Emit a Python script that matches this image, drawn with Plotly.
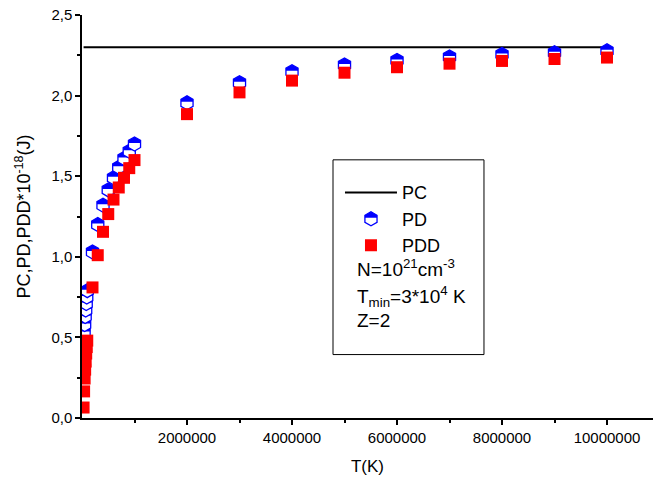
import plotly.graph_objects as go

# Temperature grid (K)
T = [3e4, 4e4, 5e4, 6e4, 7e4, 8e4, 9e4, 1e5,
     2e5, 3e5, 4e5, 5e5, 6e5, 7e5, 8e5, 9e5, 1e6,
     2e6, 3e6, 4e6, 5e6, 6e6, 7e6, 8e6, 9e6, 1e7]

# Energies in units of 1e-18 J
PC = [2.3, 2.3, 2.3, 2.3, 2.3, 2.3, 2.3, 2.3,
      2.3, 2.3, 2.3, 2.3, 2.3, 2.3, 2.3, 2.3, 2.3,
      2.3, 2.3, 2.3, 2.3, 2.3, 2.3, 2.3, 2.3, 2.3]
PD = [0.47, 0.53, 0.58, 0.63, 0.67, 0.71, 0.75, 0.79,
      1.03, 1.20, 1.32, 1.415, 1.49, 1.555, 1.61, 1.655, 1.70,
      1.955, 2.08, 2.148, 2.19, 2.218, 2.24, 2.255, 2.266, 2.278]
PDD = [0.065, 0.165, 0.245, 0.30, 0.35, 0.40, 0.44, 0.48,
       0.81, 1.01, 1.155, 1.265, 1.355, 1.43, 1.49, 1.55, 1.60,
       1.885, 2.02, 2.093, 2.142, 2.176, 2.198, 2.215, 2.227, 2.236]

X_MAJOR = [2e6, 4e6, 6e6, 8e6, 1e7]
X_MINOR = [1e6, 3e6, 5e6, 7e6, 9e6]

FONT = "Liberation Sans, Arial, sans-serif"
BLUE = "#0000ff"
RED = "#ff0000"

fig = go.Figure()
fig.add_trace(go.Scatter(x=T, y=PC, name="PC", mode="lines",
                         line=dict(color="black", width=2)))
fig.add_trace(go.Scatter(x=T, y=PD, name="PD", mode="markers",
                         marker=dict(symbol="hexagon", size=14, color="white",
                                     line=dict(color=BLUE, width=1.3))))
fig.add_trace(go.Scatter(x=T, y=PDD, name="PDD", mode="markers",
                         marker=dict(symbol="square", size=12, color=RED,
                                     line=dict(width=0))))

# legend frame and the parameter notes inside it
bx0, bx1, by0, by1 = 0.4396, 0.704, 0.1574, 0.6406
shapes = [dict(type="rect", xref="paper", yref="paper", x0=bx0, x1=bx1, y0=by0, y1=by1,
               line=dict(color="black", width=1), fillcolor="rgba(0,0,0,0)")]
notes = [
    ("N=10<sup>21</sup>cm<sup>-3</sup>", 0.372),
    ("T<sub>min</sub>=3*10<sup>4</sup> K", 0.302),
    ("Z=2", 0.242),
]
annotations = [dict(text=t, xref="paper", yref="paper", x=0.478, y=y,
                    xanchor="left", yanchor="middle", showarrow=False,
                    font=dict(family=FONT, size=19, color="black"))
               for t, y in notes]

fig.update_layout(
    width=653, height=482,
    margin=dict(l=82, r=0, t=15, b=63.5),
    paper_bgcolor="white", plot_bgcolor="white",
    separators=",.",
    font=dict(family=FONT, size=15, color="black"),
    showlegend=True,
    legend=dict(x=0.4518, y=0.605, xanchor="left", yanchor="top",
                bgcolor="rgba(0,0,0,0)", borderwidth=0,
                font=dict(family=FONT, size=18), itemwidth=52,
                tracegroupgap=0),
    shapes=shapes,
    annotations=annotations,
    xaxis=dict(range=[0, 1.0876e7], showline=True, linecolor="black", linewidth=1.5,
               ticks="outside", ticklen=5, tickwidth=1.5, tickcolor="black",
               tickvals=X_MAJOR, tickformat="d", showgrid=False, zeroline=False,
               minor=dict(tickvals=X_MINOR, ticks="outside", ticklen=3,
                          tickwidth=1.5, tickcolor="black"),
               title=dict(text="T(K)", font=dict(family=FONT, size=17), standoff=15)),
    yaxis=dict(range=[0, 2.5], showline=True, linecolor="black", linewidth=1.5,
               ticks="outside", ticklen=5, tickwidth=1.5, tickcolor="black",
               dtick=0.5, tick0=0, tickformat=".1f", showgrid=False, zeroline=False,
               minor=dict(dtick=0.25, ticks="outside", ticklen=3,
                          tickwidth=1.5, tickcolor="black"),
               title=dict(text="PC,PD,PDD*10<sup>-18</sup>(J)",
                          font=dict(family=FONT, size=18), standoff=16)),
)

# PD markers: blue outline with the upper half filled in (plot and legend)
half_fill_js = """
var gd = document.getElementById('{plot_id}');
function topHalf(r) {
  var w = r * Math.sqrt(3) / 2, h = r / 2;
  return 'M' + (-w) + ',' + (-h) + 'L0,' + (-r) + 'L' + w + ',' + (-h) +
         'V-1H' + (-w) + 'Z';
}
function addTop(p, r) {
  var nxt = p.nextSibling;
  if (nxt && nxt.getAttribute && nxt.getAttribute('class') === 'pd-top') return;
  var np = document.createElementNS('http://www.w3.org/2000/svg', 'path');
  np.setAttribute('class', 'pd-top');
  np.setAttribute('d', topHalf(r));
  var t = p.getAttribute('transform');
  if (t) np.setAttribute('transform', t);
  np.setAttribute('style', 'fill:#0000ff;stroke:none;');
  p.parentNode.insertBefore(np, nxt);
}
function markerRadius(p, fallback) {
  var d = p.getAttribute('d') || '';
  var m = d.match(/L0,(-?[0-9.]+)/);
  if (m) return Math.abs(parseFloat(m[1]));
  return fallback;
}
function decorate() {
  var names = gd._fullData.map(function (t) { return t.name; });
  var pdIndex = names.indexOf('PD');
  var traces = gd.querySelectorAll('.scatterlayer .trace');
  if (traces[pdIndex]) {
    traces[pdIndex].querySelectorAll('path.point').forEach(function (p) {
      addTop(p, markerRadius(p, 7));
    });
  }
  gd.querySelectorAll('.legend .traces').forEach(function (g) {
    var txt = g.querySelector('text.legendtext');
    if (!txt || txt.textContent.trim() !== 'PD') return;
    g.querySelectorAll('path.scatterpts').forEach(function (p) {
      addTop(p, markerRadius(p, 5));
    });
  });
}
decorate();
setTimeout(decorate, 300);
"""

fig.write_html("out.html", post_script=half_fill_js)
